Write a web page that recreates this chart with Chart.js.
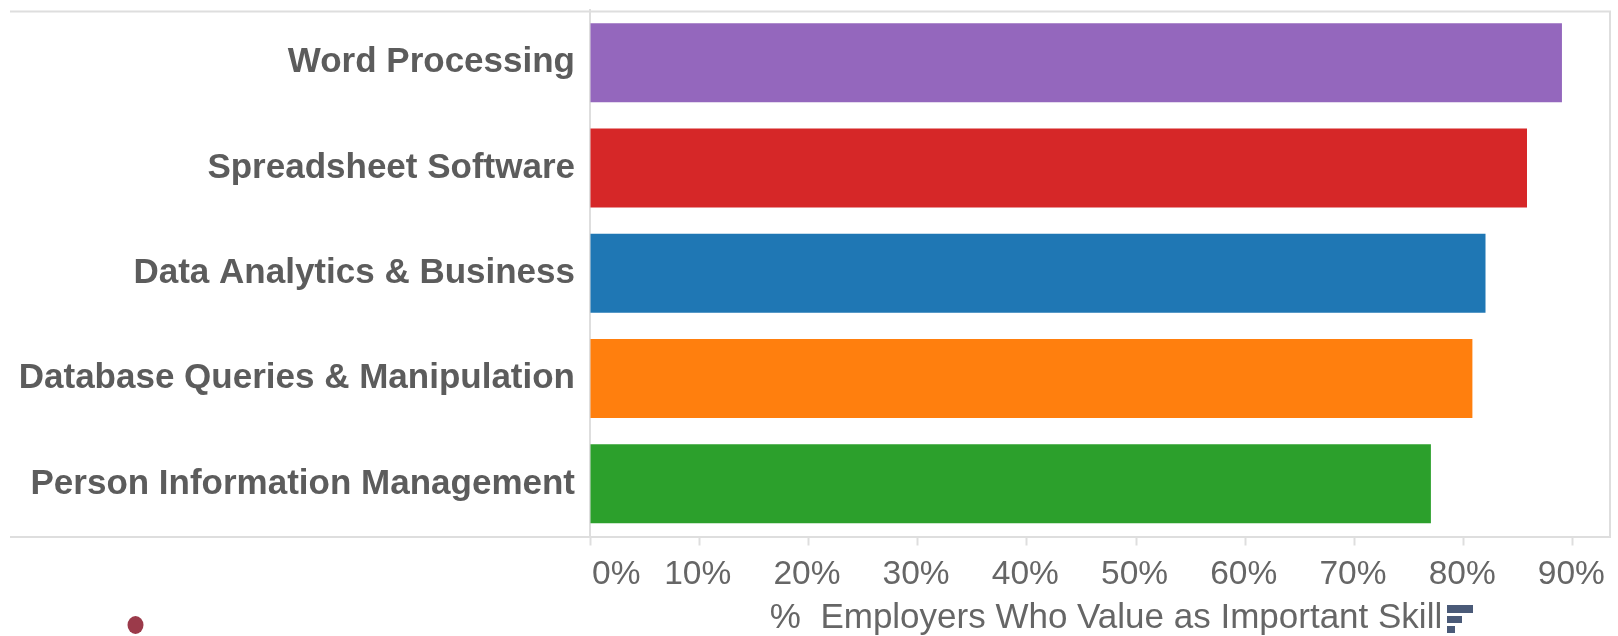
<!DOCTYPE html>
<html>
<head>
<meta charset="utf-8">
<title>Employer skills</title>
<script src="https://cdn.jsdelivr.net/npm/chart.js@4/dist/chart.umd.min.js"></script>
<style>
  html, body { margin: 0; padding: 0; background: #fff; overflow: hidden; }
  #wrap { width: 1618px; height: 636px; position: relative; }
</style>
</head>
<body>
<div id="wrap"><canvas id="skillsChart"></canvas></div>
<script>
const skills = ['Word Processing', 'Spreadsheet Software', 'Data Analytics & Business', 'Database Queries & Manipulation', 'Person Information Management'];
const employerPct = [89, 85.8, 82, 80.8, 77];
const barColors = ['#9467bd', '#d62728', '#1f77b4', '#ff7f0e', '#2ca02c'];
const axisTitle = '%  Employers Who Value as Important Skill';

const frameColor = '#dedede';
const textColor = '#666666';
const tickFont = '33.5px "Liberation Sans"';

// frame around the plot, the shifted 0% label, axis title, sort icon and the stray dot
const extras = {
    id: 'extras',
    afterDraw(chart) {
        const c = chart.ctx;
        const a = chart.chartArea;
        const x = chart.scales.x;
        c.save();
        c.strokeStyle = frameColor;
        c.lineWidth = 2;
        c.beginPath();
        c.moveTo(10, a.top + 1.5);
        c.lineTo(a.right, a.top + 1.5);
        c.lineTo(a.right, a.bottom + 0.5);
        c.lineTo(10, a.bottom + 0.5);
        c.stroke();

        c.fillStyle = textColor;
        c.font = tickFont;
        c.textAlign = 'left';
        c.textBaseline = 'top';
        c.fillText('0%', x.getPixelForValue(0) + 2, 558);

        c.font = '35px "Liberation Sans"';
        c.textAlign = 'center';
        c.fillText(axisTitle, 1106, 601);

        c.fillStyle = '#4a5a78';
        c.fillRect(1447, 605, 26, 8);
        c.fillRect(1447, 616, 15, 7);
        c.fillRect(1447, 626, 8, 7);

        c.fillStyle = '#9b3a4a';
        c.beginPath();
        c.ellipse(135.5, 625, 8, 9, 0, 0, Math.PI * 2);
        c.fill();
        c.restore();
    }
};

const ctx = document.getElementById('skillsChart').getContext('2d');

new Chart(ctx, {
    type: 'bar',
    data: {
        labels: skills,
        datasets: [{
            data: employerPct,
            backgroundColor: barColors,
            barPercentage: 0.75,
            categoryPercentage: 1
        }]
    },
    options: {
        indexAxis: 'y',
        responsive: true,
        maintainAspectRatio: false,
        animation: false,
        layout: { padding: { top: 10, right: 8, left: 0, bottom: 0 } },
        plugins: {
            legend: { display: false },
            tooltip: { enabled: false }
        },
        scales: {
            x: {
                min: 0,
                max: 93.4,
                afterFit(scale) {
                    scale.height = 99.5;
                    scale.paddingLeft = 0;
                    scale.paddingRight = 0;
                },
                border: { display: false },
                grid: {
                    drawOnChartArea: false,
                    drawTicks: true,
                    tickLength: 9,
                    tickWidth: 2,
                    color: frameColor
                },
                ticks: {
                    stepSize: 10,
                    includeBounds: false,
                    maxRotation: 0,
                    autoSkip: false,
                    padding: 9,
                    labelOffset: -1.5,
                    color: textColor,
                    font: { family: '"Liberation Sans"', size: 33.5 },
                    callback: v => (v === 0 ? '' : v + '%')
                }
            },
            y: {
                afterFit(scale) {
                    scale.width = 590;
                    scale.paddingTop = 0;
                    scale.paddingBottom = 0;
                },
                border: { display: true, color: frameColor, width: 2 },
                grid: { display: false, drawTicks: false },
                ticks: {
                    padding: 15,
                    autoSkip: false,
                    color: '#5c5c5c',
                    font: { family: '"Liberation Sans"', size: 35, weight: 'bold' }
                }
            }
        }
    },
    plugins: [extras]
});
</script>
</body>
</html>
